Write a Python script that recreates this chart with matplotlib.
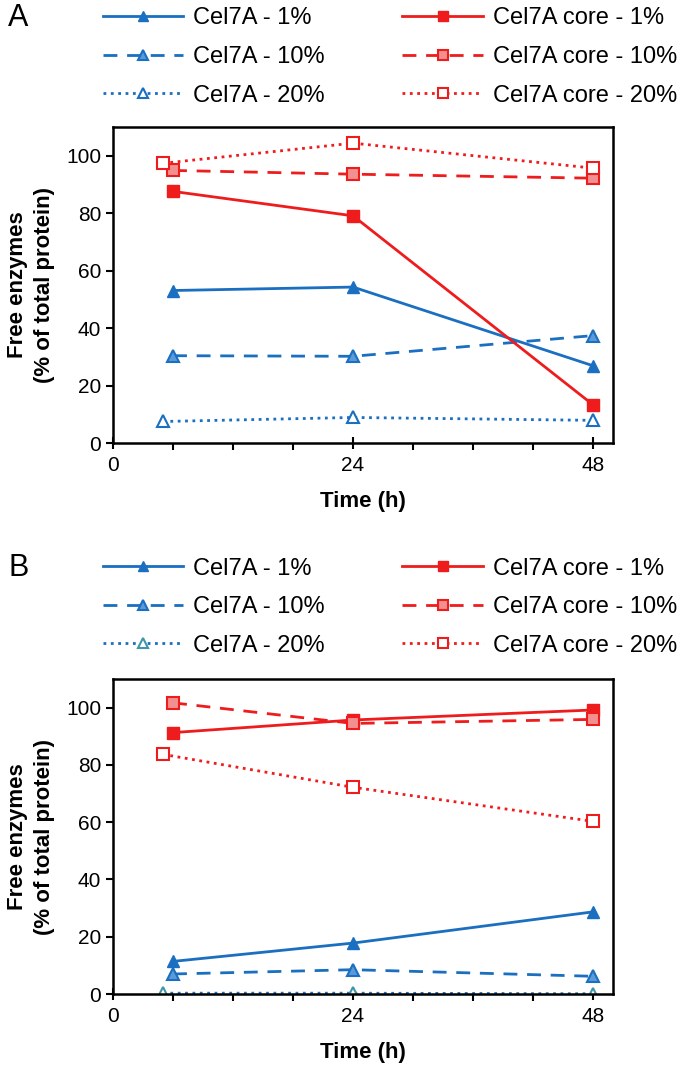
import matplotlib
matplotlib.use('Agg')
import matplotlib.pyplot as plt
from matplotlib.ticker import MultipleLocator

plt.rcParams['font.family'] = ['Liberation Sans', 'DejaVu Sans']

# time points (h); the 20% series are offset slightly at the first point
t_main = [6, 24, 48]
t_20 = [5, 24, 48]

labels = ['Cel7A - 1%', 'Cel7A - 10%', 'Cel7A - 20%',
          'Cel7A core - 1%', 'Cel7A core - 10%', 'Cel7A core - 20%']

# panel A values (% of total protein)
a_cel_1 = [53.1, 54.3, 26.9]
a_cel_10 = [30.4, 30.2, 37.4]
a_cel_20 = [7.5, 8.9, 7.9]
a_core_1 = [87.6, 79.1, 13.3]
a_core_10 = [94.9, 93.6, 92.2]
a_core_20 = [97.4, 104.4, 95.7]

# panel B values
b_cel_1 = [11.4, 17.8, 28.7]
b_cel_10 = [7.0, 8.5, 6.2]
b_cel_20 = [0.3, 0.3, 0.1]
b_core_1 = [91.3, 95.7, 99.2]
b_core_10 = [101.7, 94.5, 95.9]
b_core_20 = [83.7, 72.2, 60.3]

blue = '#1a6fc0'
red = '#ee1c1c'


def draw_panel(ax, vals, teal20=False):
    c1, c10, c20, r1, r10, r20 = vals
    m20 = '#3f96a8' if teal20 else blue
    ax.plot(t_main, c1, '-', color=blue, lw=2, marker='^', ms=8,
            mfc=blue, mec=blue, label=labels[0])
    ax.plot(t_main, c10, '--', color=blue, lw=2, dashes=(5, 3.5), marker='^', ms=8,
            mfc='#5a9ad8', mec=blue, mew=1.5, label=labels[1])
    ax.plot(t_20, c20, ':', color=blue, lw=2, marker='^', ms=8,
            mfc='white', mec=m20, mew=1.5, label=labels[2])
    ax.plot(t_main, r1, '-', color=red, lw=2, marker='s', ms=8,
            mfc=red, mec=red, label=labels[3])
    ax.plot(t_main, r10, '--', color=red, lw=2, dashes=(5, 3.5), marker='s', ms=8,
            mfc='#f29090', mec=red, mew=1.5, label=labels[4])
    ax.plot(t_20, r20, ':', color=red, lw=2, marker='s', ms=8,
            mfc='white', mec=red, mew=1.5, label=labels[5])

    ax.set_xlim(0, 50)
    ax.set_ylim(0, 110)
    ax.xaxis.set_major_locator(MultipleLocator(24))
    ax.xaxis.set_minor_locator(MultipleLocator(6))
    ax.yaxis.set_major_locator(MultipleLocator(20))
    ax.tick_params(axis='x', which='major', direction='inout', length=9, width=1.5,
                   labelsize=15, pad=5)
    ax.tick_params(axis='x', which='minor', direction='out', length=5, width=1.5)
    ax.tick_params(axis='y', direction='out', length=5, width=1.5, labelsize=15)
    for s in ax.spines.values():
        s.set_linewidth(1.8)
    ax.set_xlabel('Time (h)', fontsize=16, fontweight='bold', labelpad=11)
    ax.set_ylabel('Free enzymes\n(% of total protein)', fontsize=16, fontweight='bold',
                  labelpad=8, linespacing=1.35)


fig = plt.figure(figsize=(6.85, 10.66), dpi=100)
ax_a = fig.add_axes([0.165, 0.5844, 0.730, 0.2964])
ax_b = fig.add_axes([0.165, 0.0675, 0.730, 0.2955])

draw_panel(ax_a, [a_cel_1, a_cel_10, a_cel_20, a_core_1, a_core_10, a_core_20])
draw_panel(ax_b, [b_cel_1, b_cel_10, b_cel_20, b_core_1, b_core_10, b_core_20], teal20=True)

for ax, top, tag in [(ax_a, 0.993, 'A'), (ax_b, 0.477, 'B')]:
    fig.legend(*ax.get_legend_handles_labels(), loc='upper left',
               bbox_to_anchor=(0.150, top), ncol=2, frameon=False,
               fontsize=17, numpoints=1, handlelength=3.4, handletextpad=0.42,
               columnspacing=3.3, labelspacing=0.7, borderpad=0, borderaxespad=0,
               markerscale=0.85)
    fig.text(0.012, top - 0.010, tag, fontsize=22, va='center', ha='left')

fig.savefig('out.png', dpi=100)
